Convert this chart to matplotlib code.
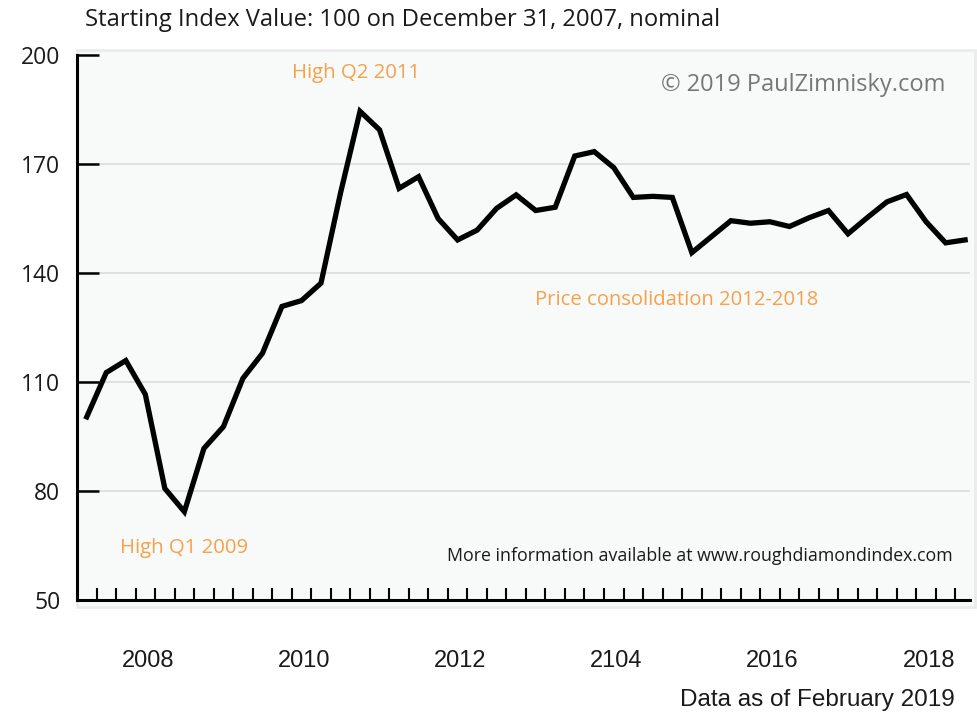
import numpy as np
import matplotlib
matplotlib.use('Agg')
import matplotlib.pyplot as plt
from matplotlib.patches import Rectangle

# 
# data: quarterly index values, start = 100 on Dec 31, 2007
# 
index_values = [100.4, 112.6, 115.9, 106.6, 80.7, 74.3, 91.7, 97.7, 111.0, 117.9,
                130.8, 132.4, 137.2, 162.0, 184.5, 179.4, 163.3, 166.5, 155.0, 149.1,
                151.8, 157.8, 161.5, 157.2, 158.1, 172.2, 173.4, 169.0, 160.8, 161.1,
                160.8, 145.6, 150.0, 154.4, 153.7, 154.1, 152.8, 155.2, 157.2, 150.8,
                155.3, 159.6, 161.6, 154.1, 148.3, 149.1]
year_labels = ['2008', '2010', '2012', '2104', '2016', '2018']
year_label_pos = [3.14, 11.14, 19.14, 27.14, 35.14, 43.14]
y_ticks = [50, 80, 110, 140, 170, 200]
grid_levels = [80, 110, 140, 170]

W, H = 977, 715
def fx(px):
    return px / float(W)
def fy(py):
    return 1.0 - py / float(H)

main_font = ['Open Sans', 'DejaVu Sans']
narrow_font = ['Liberation Sans Narrow', 'Liberation Sans', 'DejaVu Sans']
orange = '#f6a14b'

fig = plt.figure(figsize=(9.77, 7.15), dpi=100)
fig.patch.set_facecolor('white')

# light panel behind the plot
fig.patches.append(Rectangle((fx(77), fy(607)), fx(975) - fx(77), fy(50) - fy(607),
                             transform=fig.transFigure, facecolor='#f8f9f9',
                             edgecolor='#ebebeb', lw=2, zorder=-5))

ax = fig.add_axes([fx(77), fy(600), fx(970) - fx(77), fy(55) - fy(600)])
ax.set_facecolor('none')
ax.set_zorder(3)

x = np.arange(len(index_values))
ax.plot(x, index_values, color='black', lw=3.8, solid_joinstyle='miter', zorder=5)

for g in grid_levels:
    ax.axhline(g, color='#dcdcdc', lw=1.2, zorder=1)

ax.set_xlim(-0.5, 45.25)
ax.set_ylim(50, 200)

ax.spines['top'].set_visible(False)
ax.spines['right'].set_visible(False)
ax.spines['left'].set_linewidth(2.2)
ax.spines['bottom'].set_linewidth(2.2)

ax.set_yticks(y_ticks)
ax.set_yticklabels([str(v) for v in y_ticks], fontsize=16.5, family=main_font, color='#1a1a1a')
ax.tick_params(axis='y', direction='in', length=16, width=1.8, pad=12)

ax.set_xticks(np.arange(0.5, 45.0, 1.0), minor=True)
ax.set_xticks(year_label_pos)
ax.set_xticklabels(year_labels, fontsize=17, family=narrow_font, color='#1a1a1a')
ax.tick_params(axis='x', which='major', length=0, pad=36)
ax.tick_params(axis='x', which='minor', direction='in', length=8.5, width=1.5)

# 
# texts
# 
fig.text(fx(85), fy(20), 'Starting Index Value: 100 on December 31, 2007, nominal',
         fontsize=17.1, family=main_font, color='#1a1a1a', ha='left', va='center')
fig.text(fx(292), fy(73), 'High Q2 2011', fontsize=14.7, family=main_font,
         color=orange, ha='left', va='center')
fig.text(fx(120), fy(548), 'High Q1 2009', fontsize=14.7, family=main_font,
         color=orange, ha='left', va='center')
fig.text(fx(535), fy(300), 'Price consolidation 2012-2018', fontsize=14.6, family=main_font,
         color=orange, ha='left', va='center')
fig.text(fx(945), fy(85), '\u00a9 2019 PaulZimnisky.com', fontsize=17, family=main_font,
         color='#777777', ha='right', va='center')
fig.text(fx(953), fy(556), 'More information available at www.roughdiamondindex.com',
         fontsize=12.8, family=main_font, color='#1a1a1a', ha='right', va='center')
fig.text(fx(955), fy(700), 'Data as of February 2019', fontsize=17.5, family=narrow_font,
         color='#1a1a1a', ha='right', va='center')

fig.savefig('out.png', dpi=100)
